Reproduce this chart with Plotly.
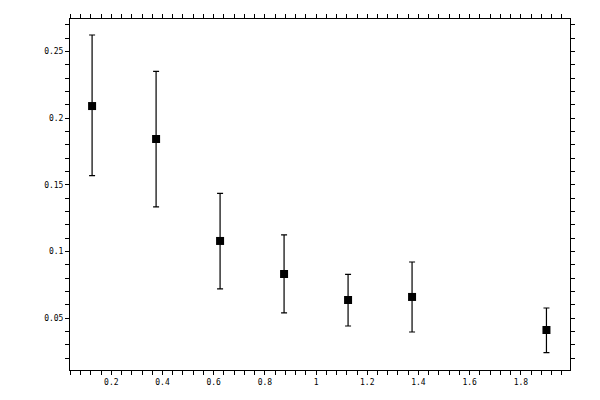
import plotly.graph_objects as go

# --- data ------------------------------------------------------------------
x_vals = [0.125, 0.375, 0.625, 0.875, 1.125, 1.375, 1.9]
y_vals = [0.209, 0.1843, 0.1078, 0.0830, 0.0635, 0.0658, 0.041]
y_hi = [0.2623, 0.235, 0.1435, 0.1123, 0.0828, 0.0920, 0.0575]
y_lo = [0.1568, 0.1333, 0.0718, 0.0538, 0.0440, 0.0395, 0.024]

x_ticks = [0.2, 0.4, 0.6, 0.8, 1.0, 1.2, 1.4, 1.6, 1.8]
x_labels = ["0.2", "0.4", "0.6", "0.8", "1", "1.2", "1.4", "1.6", "1.8"]
y_ticks = [0.05, 0.1, 0.15, 0.2, 0.25]
y_labels = ["0.05", "0.1", "0.15", "0.2", "0.25"]

X_RANGE = [0.0387, 1.992]
Y_RANGE = [0.011, 0.2743]

err_plus = [h - v for h, v in zip(y_hi, y_vals)]
err_minus = [v - l for v, l in zip(y_vals, y_lo)]

fig = go.Figure()
fig.add_trace(go.Scatter(
    x=x_vals, y=y_vals, mode="markers",
    marker=dict(symbol="square", size=8, color="black"),
    error_y=dict(type="data", symmetric=False, array=err_plus, arrayminus=err_minus,
                 color="black", thickness=1.2, width=3),
    showlegend=False,
))

font = dict(family="DejaVu Sans Mono", size=8, color="black")

# main axes: labels + outward ticks (major and minor), mirrored to top/right
common = dict(showgrid=False, zeroline=False, showline=True, linecolor="black",
              linewidth=1, mirror="allticks", ticks="outside", ticklen=4,
              tickwidth=1, tickcolor="black", tickfont=font, automargin=False)
overlay = dict(showticklabels=False, ticks="inside", ticklen=4, tickwidth=1,
               tickcolor="black", mirror="allticks", showline=False,
               showgrid=False, zeroline=False, automargin=False)
# the page body has an 8px default margin, so margins are shifted by 8
fig.update_layout(
    width=600, height=400,
    margin=dict(l=62, r=38, t=11, b=38),
    paper_bgcolor="white", plot_bgcolor="white",
    xaxis=dict(range=X_RANGE, tickvals=x_ticks, ticktext=x_labels,
               minor=dict(dtick=0.04, tick0=0, ticks="outside", ticklen=4,
                          tickcolor="black", tickwidth=1),
               **common),
    yaxis=dict(range=Y_RANGE, tickvals=y_ticks, ticktext=y_labels,
               minor=dict(dtick=0.01, tick0=0, ticks="outside", ticklen=4,
                          tickcolor="black", tickwidth=1),
               **common),
    # overlay axes: inward part of the major ticks
    xaxis2=dict(range=X_RANGE, overlaying="x", anchor="y", side="bottom",
                tickvals=x_ticks, **overlay),
    yaxis2=dict(range=Y_RANGE, overlaying="y", anchor="x", side="left",
                tickvals=y_ticks, **overlay),
)

fig.write_html("out.html")
